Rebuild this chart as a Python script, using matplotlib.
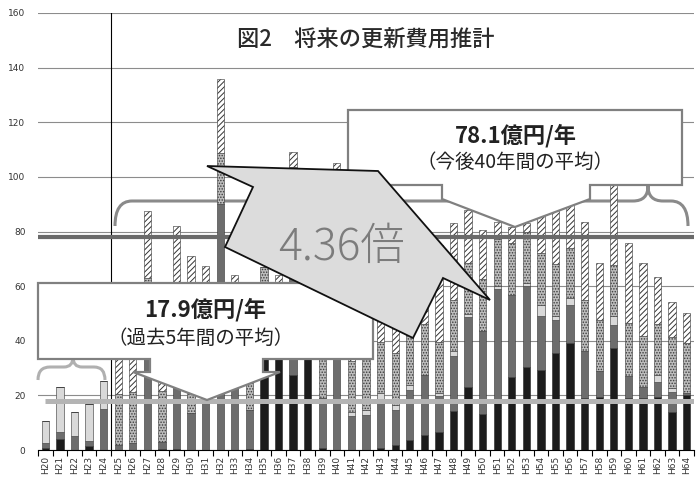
import matplotlib
matplotlib.use('Agg')
import matplotlib.pyplot as plt
import numpy as np
from matplotlib.patches import Polygon, PathPatch
from matplotlib.path import Path

plt.rcParams['font.family'] = ['Noto Sans CJK JP', 'DejaVu Sans']
plt.rcParams['hatch.linewidth'] = 0.7

# fiscal years H20..H64
years = ['H%d' % n for n in range(20, 65)]

# stacked segments, bottom to top (億円)
black = [0.8, 3.9, 0, 1.6, 0,
         0, 0, 0, 0.5, 0.5, 0, 0, 0, 0, 0.3,
         46, 36, 27.5, 55, 0.8, 0, 0, 0, 0.6, 1.8,
         3.7, 5.5, 6.7, 14.3, 23, 13.1, 17.1, 26.8, 30.5, 29.3,
         35.4, 39.3, 18.9, 19.5, 37.2, 18.9, 19, 19.5, 14, 20]
dark = [1.7, 2.8, 5.1, 1.7, 15,
        1.8, 2.7, 44.2, 2.5, 39.5, 13.5, 35, 90.1, 40, 14.3,
        2.4, 3.3, 57.3, 5, 18.1, 60, 12.5, 12.8, 18.0, 12.8,
        18.3, 21.8, 13.2, 20.1, 25.8, 30.6, 41.9, 30, 29.6, 19.9,
        12.2, 13.8, 17.3, 9.5, 8.6, 8.2, 4, 5.3, 7.1, 0.8]
light = [8.2, 16.3, 8.9, 13.5, 10.3,
         0, 0, 0, 0, 0, 0, 0, 0, 0, 0,
         0, 0, 0, 0, 0, 0, 1.3, 1.8, 2.2, 1.9,
         1.8, 0, 0.9, 1.9, 0.9, 0, 1.1, 0, 1.2, 3.9,
         1.5, 2.4, 0, 0, 3.3, 0, 0, 2.8, 1.7, 0]
dots = [0, 0, 0, 0, 0,
        18.7, 18.7, 18.7, 18.7, 18.7, 18.7, 18.7, 18.5, 18.7, 18.7,
        18.7, 18.7, 18.7, 18.7, 18.7, 18.7, 18.7, 18.7, 18.9, 19.1,
        18.7, 18.7, 18.9, 18.6, 18.7, 18.9, 17, 18.9, 18.6, 18.9,
        18.9, 18.6, 18.7, 18.6, 18.6, 19.3, 18.9, 18.6, 18.7, 18.5]
hatched = [0, 0, 0, 0, 0,
           37.5, 38.6, 24.7, 33.3, 23.4, 38.8, 13.8, 27.2, 5.4, 21.7,
           0, 6.1, 5.5, 20.3, 34.4, 26.3, 39.5, 38.7, 32.3, 39.4,
           32.5, 32, 35.3, 28.1, 19.5, 18.0, 6.5, 6.1, 3.1, 14,
           22, 31, 28.7, 20.8, 40.3, 29.5, 26.7, 17.1, 12.8, 10.8]

avg_past = 17.9    # 過去5年間の平均
avg_future = 78.1  # 今後40年間の平均

fig = plt.figure(figsize=(7, 4.8), dpi=100)
ax = fig.add_axes([38/700, 30/480, 656/700, 437/480])

x = np.arange(len(years))
bottom = np.zeros(len(years))
styles = [
    (black, dict(color='#1c1c1c', edgecolor='#222222')),
    (dark, dict(color='#6d6d6d', edgecolor='#333333')),
    (light, dict(color='#d9d9d9', edgecolor='#333333')),
    (dots, dict(facecolor='#bdbdbd', edgecolor='#3a3a3a', hatch='......')),
    (hatched, dict(facecolor='white', edgecolor='#333333', hatch='//////')),
]
for vals, st in styles:
    vals = np.array(vals, dtype=float)
    ax.bar(x, vals, 0.5, bottom=bottom, linewidth=0.4, zorder=2, **st)
    bottom += vals

ax.set_xlim(-0.5, 44.5)
ax.set_ylim(0, 160)
ax.set_yticks(range(0, 161, 20))
ax.yaxis.grid(True, color='#8c8c8c', lw=0.8)
ax.set_axisbelow(True)
for s in ['left', 'top', 'right']:
    ax.spines[s].set_visible(False)
ax.spines['bottom'].set_linewidth(0.8)
ax.tick_params(axis='y', length=0, labelsize=6.5, labelcolor='#333333', pad=9)
ax.set_xticks(x)
ax.set_xticklabels(years, rotation=90, fontsize=6.5, color='#333333',
                   family='DejaVu Sans')
ax.set_xticks(np.arange(-0.5, 45, 1), minor=True)
ax.tick_params(axis='x', which='major', length=0, pad=4)
ax.tick_params(axis='x', which='minor', length=4, width=0.8)
for lab in ax.get_yticklabels():
    lab.set_family('DejaVu Sans')

ax.axvline(4.5, color='black', lw=0.8, zorder=2.5)
ax.axhline(avg_future, color='#6a6a6a', lw=3, zorder=4)
ax.hlines(avg_past, -0.05, 44.5, color='#b4b4b4', lw=3.6, zorder=4)

ax.text(22, 150, '図2　将来の更新費用推計', ha='center', va='center',
        fontsize=16, fontweight='medium', color='#2a2a2a', zorder=5)

# overlay in pixel coordinates for callouts
ov = fig.add_axes([0, 0, 1, 1], zorder=3)
ov.set_xlim(0, 700)
ov.set_ylim(480, 0)
ov.axis('off')
ov.patch.set_alpha(0)

def brace(pts_codes, color, lw=2.2):
    verts = [p for p, c in pts_codes]
    codes = [c for p, c in pts_codes]
    pp = PathPatch(Path(verts, codes), facecolor='none', edgecolor=color,
                   lw=lw, transform=ov.transData, zorder=1.5, clip_on=False)
    ax.add_patch(pp)

M, L, C3 = Path.MOVETO, Path.LINETO, Path.CURVE3
brace([((115, 226), M), ((115, 201), C3), ((132, 201), C3),
       ((633, 201), L), ((648, 201), C3), ((648, 186), C3),
       ((648, 201), C3), ((663, 201), C3),
       ((671, 201), L), ((688, 201), C3), ((688, 226), C3)], '#8a8a8a')
brace([((38, 380), M), ((38, 367), C3), ((50, 367), C3),
       ((64, 367), L), ((73, 367), C3), ((73, 357), C3),
       ((73, 367), C3), ((82, 367), C3),
       ((94, 367), L), ((105, 367), C3), ((105, 380), C3)], '#b0b0b0')

co = dict(facecolor='white', edgecolor='#808080', lw=1.6, zorder=1)
ov.add_patch(Polygon([(38, 283), (373, 283), (373, 359), (263, 359), (263, 372),
                      (280, 372), (207, 400), (133, 372), (150, 372), (150, 359),
                      (38, 359)], closed=True, **co))
ov.add_patch(Polygon([(348, 110), (682, 110), (682, 185), (590, 185), (590, 199),
                      (515, 227), (442, 199), (442, 185), (348, 185)],
                     closed=True, **co))

ov.add_patch(Polygon([(207, 166), (378, 171), (490, 300), (443, 278), (413, 338),
                      (225, 247), (253, 187)], closed=True,
                     facecolor='#dcdcdc', edgecolor='#111111', lw=1.3, zorder=2))

ov.text(342, 247, '4.36倍', ha='center', va='center', fontsize=32,
        fontweight='light', color='#7c7c7c', zorder=3)
ov.text(205, 310, '%.1f億円/年' % avg_past, ha='center', va='center',
        fontsize=16, fontweight='bold', color='#222222', zorder=3)
ov.text(201, 338, '（過去5年間の平均）', ha='center', va='center',
        fontsize=14, color='#222222', zorder=3)
ov.text(516, 136, '%.1f億円/年' % avg_future, ha='center', va='center',
        fontsize=16, fontweight='bold', color='#222222', zorder=3)
ov.text(515, 162, '（今後40年間の平均）', ha='center', va='center',
        fontsize=14, color='#222222', zorder=3)

fig.savefig('out.png', dpi=100)
